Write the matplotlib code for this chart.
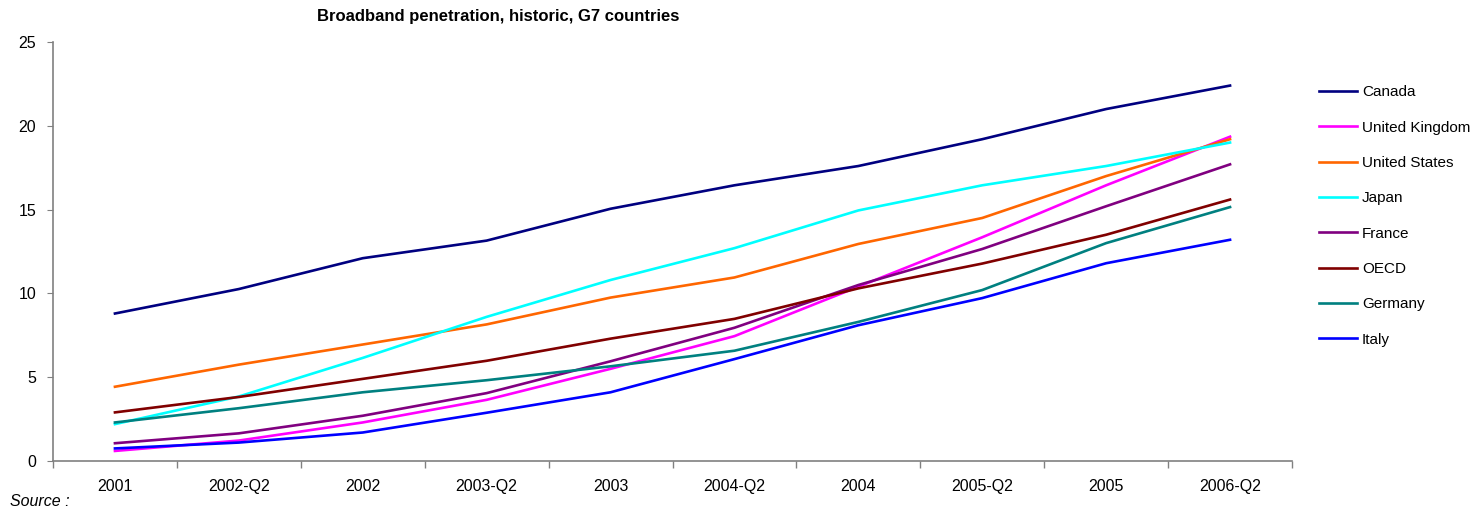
import numpy as np
import matplotlib
matplotlib.use("Agg")
import matplotlib.pyplot as plt

plt.rcParams['font.family'] = ['Liberation Sans', 'DejaVu Sans']

periods = ["2001", "2002-Q2", "2002", "2003-Q2", "2003", "2004-Q2",
           "2004", "2005-Q2", "2005", "2006-Q2"]

canada = [8.8, 10.26, 12.1, 13.15, 15.05, 16.45, 17.6, 19.2, 21.0, 22.4]
united_kingdom = [0.6, 1.22, 2.3, 3.65, 5.5, 7.45, 10.4, 13.35, 16.45, 19.35]
united_states = [4.43, 5.75, 6.95, 8.15, 9.75, 10.95, 12.95, 14.5, 17.0, 19.2]
japan = [2.2, 3.85, 6.15, 8.6, 10.8, 12.7, 14.95, 16.45, 17.6, 19.0]
france = [1.06, 1.65, 2.7, 4.05, 5.95, 7.95, 10.5, 12.65, 15.2, 17.7]
oecd = [2.9, 3.82, 4.9, 5.98, 7.3, 8.48, 10.3, 11.78, 13.5, 15.6]
germany = [2.3, 3.15, 4.1, 4.82, 5.65, 6.58, 8.3, 10.2, 13.0, 15.15]
italy = [0.75, 1.1, 1.7, 2.88, 4.1, 6.08, 8.1, 9.72, 11.8, 13.2]

names = ["Canada", "United Kingdom", "United States", "Japan", "France",
         "OECD", "Germany", "Italy"]
series = [canada, united_kingdom, united_states, japan, france, oecd,
          germany, italy]
colors = ["#000080", "#FF00FF", "#FF6600", "#00FFFF", "#800080",
          "#800000", "#008080", "#0000FF"]

fig = plt.figure(figsize=(14.79, 5.11), dpi=100)
ax = fig.add_axes([53 / 1479, 1 - 461 / 511, (1292 - 53) / 1479, (461 - 42) / 511])

x = np.arange(len(periods))
lines = []
for name, vals, c in zip(names, series, colors):
    ln, = ax.plot(x, vals, color=c, lw=1.9, label=name, solid_joinstyle='round')
    lines.append(ln)

ax.set_xlim(-0.5, len(periods) - 0.5)
ax.set_ylim(0, 25)
ax.set_yticks([0, 5, 10, 15, 20, 25])
ax.set_xticks(x)
ax.set_xticklabels(periods)
ax.set_xticks(np.arange(-0.5, len(periods)), minor=True)
ax.tick_params(axis='x', which='major', length=0, pad=13, labelsize=11.5)
ax.tick_params(axis='x', which='minor', length=5, color='#808080', width=1)
ax.tick_params(axis='y', length=4, color='#808080', labelsize=11.5, pad=8)

for s in ['top', 'right']:
    ax.spines[s].set_visible(False)
for s in ['left', 'bottom']:
    ax.spines[s].set_color('#808080')
    ax.spines[s].set_linewidth(1.2)

fig.text(498 / 1479, 1 - 17 / 511, "Broadband penetration, historic, G7 countries",
         ha='center', va='center', fontsize=12, fontweight='bold')
fig.text(10 / 1479, 1 - 501 / 511, "Source :", ha='left', va='center',
         fontsize=11.5, style='italic')

fig.legend(handles=lines, loc='upper left', bbox_to_anchor=(1313 / 1479, 1 - 79 / 511),
           frameon=False, fontsize=11, handlelength=2.5, handletextpad=0.3,
           labelspacing=1.40, borderaxespad=0)

fig.savefig("out.png", dpi=100)
